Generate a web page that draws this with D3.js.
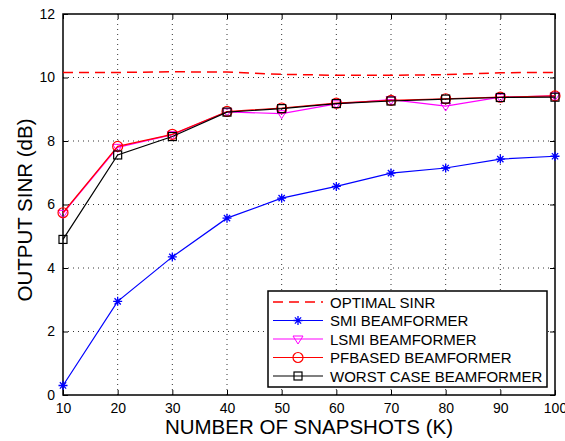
<!DOCTYPE html>
<html>
<head>
<meta charset="utf-8">
<script src="https://cdn.jsdelivr.net/npm/d3@7"></script>
<style>
  body { margin: 0; background: #fff; }
  text { font-family: "Liberation Sans", Arial, Helvetica, sans-serif; }
</style>
</head>
<body>
<script>
// snapshot counts (K)
var snapshots = [10, 20, 30, 40, 50, 60, 70, 80, 90, 100];

// output SINR in dB
var optimalSinr = [10.16, 10.16, 10.18, 10.17, 10.1, 10.07, 10.07, 10.09, 10.15, 10.16];
var smiSinr     = [0.3, 2.95, 4.35, 5.57, 6.2, 6.57, 6.99, 7.15, 7.43, 7.52];
var lsmiSinr    = [5.72, 7.8, 8.2, 8.92, 8.86, 9.17, 9.3, 9.1, 9.38, 9.42];
var pfSinr      = [5.74, 7.83, 8.21, 8.93, 9.04, 9.19, 9.28, 9.33, 9.38, 9.42];
var worstSinr   = [4.9, 7.56, 8.14, 8.91, 9.02, 9.18, 9.26, 9.32, 9.37, 9.38];

var xTicks = [10, 20, 30, 40, 50, 60, 70, 80, 90, 100];
var yTicks = [0, 2, 4, 6, 8, 10, 12];

var seriesNames = ["OPTIMAL SINR", "SMI BEAMFORMER", "LSMI BEAMFORMER", "PFBASED BEAMFORMER", "WORST CASE BEAMFORMER"];
var seriesColors = ["#ff0000", "#0000ff", "#ff00ff", "#ff0000", "#000000"];
var seriesMarkers = ["none", "star", "triangle", "circle", "square"];
var seriesValues = [optimalSinr, smiSinr, lsmiSinr, pfSinr, worstSinr];

var width = 565, height = 441;
var margin = {left: 63, right: 10, top: 14, bottom: 46};

var svg = d3.select("body").append("svg")
    .attr("width", width)
    .attr("height", height);

var x = d3.scaleLinear().domain([10, 100]).range([margin.left, width - margin.right]);
var y = d3.scaleLinear().domain([0, 12]).range([height - margin.bottom, margin.top]);

var x0 = x.range()[0], x1 = x.range()[1];
var y0 = y.range()[0], y1 = y.range()[1];

// dotted grid
var grid = svg.append("g").attr("class", "grid");
grid.selectAll(".vgrid")
    .data(xTicks.slice(1, -1))
    .enter().append("line")
      .attr("x1", function(d) { return x(d); })
      .attr("x2", function(d) { return x(d); })
      .attr("y1", y1).attr("y2", y0)
      .style("stroke", "#000")
      .style("stroke-width", 0.8)
      .style("stroke-dasharray", "1,4");
grid.selectAll(".hgrid")
    .data(yTicks.slice(1, -1))
    .enter().append("line")
      .attr("y1", function(d) { return y(d); })
      .attr("y2", function(d) { return y(d); })
      .attr("x1", x0).attr("x2", x1)
      .style("stroke", "#000")
      .style("stroke-width", 0.8)
      .style("stroke-dasharray", "1,4");

// axes, ticks inside like matlab
var xAxis = d3.axisBottom(x).tickValues(xTicks).tickSize(-5).tickPadding(8).tickSizeOuter(0);
var yAxis = d3.axisLeft(y).tickValues(yTicks).tickSize(-5).tickPadding(8).tickSizeOuter(0);
var xAxisTop = d3.axisTop(x).tickValues(xTicks).tickSize(-5).tickFormat("").tickSizeOuter(0);
var yAxisRight = d3.axisRight(y).tickValues(yTicks).tickSize(-5).tickFormat("").tickSizeOuter(0);

var gx = svg.append("g").attr("transform", "translate(0," + y0 + ")").call(xAxis);
var gy = svg.append("g").attr("transform", "translate(" + x0 + ",0)").call(yAxis);
var gxt = svg.append("g").attr("transform", "translate(0," + y1 + ")").call(xAxisTop);
var gyr = svg.append("g").attr("transform", "translate(" + x1 + ",0)").call(yAxisRight);

[gx, gy, gxt, gyr].forEach(function(g) {
  g.selectAll(".domain").remove();
  g.selectAll("line").style("stroke", "#000").style("stroke-width", 1);
  g.selectAll("text").style("font-size", "14px").style("fill", "#000")
    .style("font-family", "'Liberation Sans', Arial, sans-serif");
});

// plot box
svg.append("rect")
    .attr("x", x0).attr("y", y1)
    .attr("width", x1 - x0).attr("height", y0 - y1)
    .style("fill", "none")
    .style("stroke", "#000")
    .style("stroke-width", 1.5);

// axis titles
svg.append("text")
    .attr("x", 309)
    .attr("y", 434)
    .attr("text-anchor", "middle")
    .style("font-size", "20.5px")
    .text("NUMBER OF SNAPSHOTS (K)");
svg.append("text")
    .attr("transform", "translate(32,210) rotate(-90)")
    .attr("text-anchor", "middle")
    .style("font-size", "20.5px")
    .text("OUTPUT SINR (dB)");

// marker helper
var drawMarker = function(g, type, color, cx, cy) {
  if (type == "star") {
    var s = 4.5;
    g.append("path")
      .attr("d", "M" + (cx - s) + "," + cy + "L" + (cx + s) + "," + cy +
                 "M" + cx + "," + (cy - s) + "L" + cx + "," + (cy + s) +
                 "M" + (cx - s * 0.7) + "," + (cy - s * 0.7) + "L" + (cx + s * 0.7) + "," + (cy + s * 0.7) +
                 "M" + (cx - s * 0.7) + "," + (cy + s * 0.7) + "L" + (cx + s * 0.7) + "," + (cy - s * 0.7))
      .style("stroke", color).style("stroke-width", 1.3).style("fill", "none");
  }
  else if (type == "triangle") {
    var t = 5;
    g.append("path")
      .attr("d", "M" + (cx - t) + "," + (cy - t * 0.6) + "L" + (cx + t) + "," + (cy - t * 0.6) + "L" + cx + "," + (cy + t) + "Z")
      .style("stroke", color).style("stroke-width", 1).style("fill", "none");
  }
  else if (type == "circle") {
    g.append("circle")
      .attr("cx", cx).attr("cy", cy).attr("r", 5)
      .style("stroke", color).style("stroke-width", 1.2).style("fill", "none");
  }
  else if (type == "square") {
    g.append("rect")
      .attr("x", cx - 4).attr("y", cy - 4).attr("width", 8).attr("height", 8)
      .style("stroke", color).style("stroke-width", 1.2).style("fill", "none");
  }
};

var line = d3.line()
    .x(function(d) { return x(d.k); })
    .y(function(d) { return y(d.v); });

// draw series
for (var i = 0; i < seriesNames.length; i++) {
  var pts = snapshots.map(function(k, j) { return {k: k, v: seriesValues[i][j]}; });
  var g = svg.append("g");
  g.append("path")
    .datum(pts)
    .attr("d", line)
    .style("fill", "none")
    .style("stroke", seriesColors[i])
    .style("stroke-width", i == 0 ? 1.5 : 1.2)
    .style("stroke-dasharray", i == 0 ? "10,6" : null);
  if (seriesMarkers[i] != "none") {
    for (var p of pts) {
      drawMarker(g, seriesMarkers[i], seriesColors[i], x(p.k), y(p.v));
    }
  }
}

// legend
var legX = 268, legY = 291, legW = 279, legH = 96, rowH = 18.5;
var legend = svg.append("g");
legend.append("rect")
    .attr("x", legX).attr("y", legY)
    .attr("width", legW).attr("height", legH)
    .style("fill", "#fff")
    .style("stroke", "#000")
    .style("stroke-width", 1.5);

for (var i = 0; i < seriesNames.length; i++) {
  var ry = legY + 11 + i * rowH;
  legend.append("line")
    .attr("x1", legX + 5).attr("x2", legX + 55)
    .attr("y1", ry).attr("y2", ry)
    .style("stroke", seriesColors[i])
    .style("stroke-width", i == 0 ? 1.5 : 1.2)
    .style("stroke-dasharray", i == 0 ? "10,6" : null);
  if (seriesMarkers[i] != "none") {
    drawMarker(legend, seriesMarkers[i], seriesColors[i], legX + 30, ry);
  }
  legend.append("text")
    .attr("x", legX + 62)
    .attr("y", ry + 5.5)
    .style("font-size", "15px")
    .text(seriesNames[i]);
}
</script>
</body>
</html>
